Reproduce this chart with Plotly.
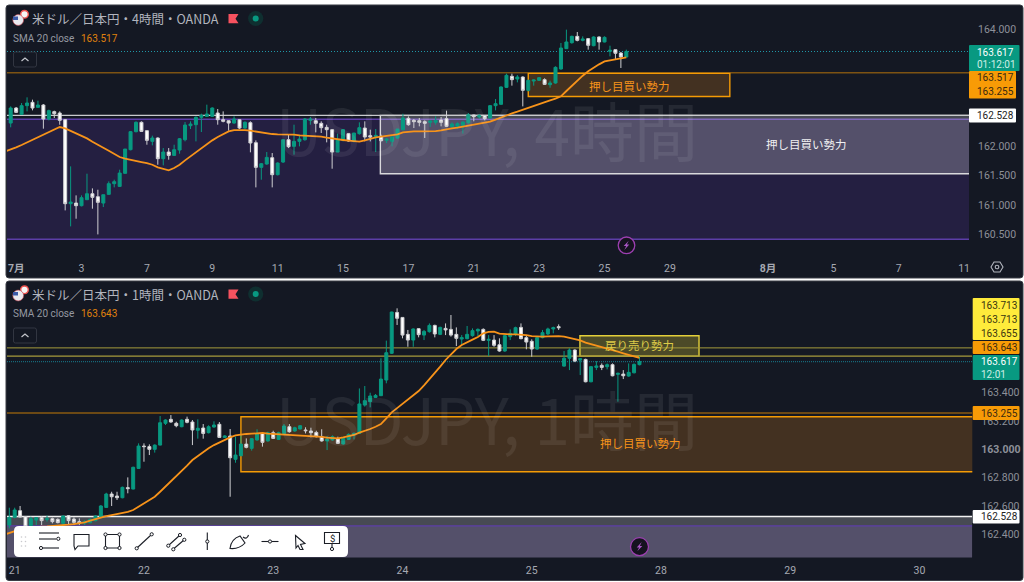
import re
import plotly.graph_objects as go

W, H = 1024, 582

# ---------- 4-hour data ----------
top_open = [162.398,162.654,162.546,162.694,162.751,162.665,162.705,162.467,162.592,162.569,
162.455,161.024,161.035,160.990,161.092,161.194,161.143,161.035,161.183,161.365,
161.319,161.541,161.944,162.251,162.410,162.268,162.086,162.143,161.791,161.904,
161.847,161.938,162.114,162.353,162.370,162.495,162.512,162.512,162.569,162.455,
162.438,162.398,162.455,162.313,162.404,162.063,161.643,161.700,161.808,161.518,
161.734,162.114,162.001,162.086,162.114,162.444,162.438,162.393,162.325,162.285,
161.904,162.103,162.217,162.086,162.217,162.313,162.183,162.166,162.171,162.103,
162.086,162.143,162.285,162.478,162.444,162.438,162.421,162.410,162.410,162.450,
162.472,162.336,162.342,162.353,162.404,162.535,162.501,162.523,162.484,162.694,
162.717,163.006,163.194,163.148,163.182,162.955,163.114,163.125,163.137,163.052,
163.080,163.319,163.665,163.767,163.875,163.807,163.836,163.716,163.864,163.779,
163.620,163.648,163.591,163.523]
top_high = [162.682,162.671,162.739,162.836,162.796,162.779,162.722,162.626,162.609,162.597,
162.467,161.660,161.166,161.166,161.535,161.285,161.262,161.177,161.404,161.433,
161.603,161.955,162.262,162.427,162.427,162.273,162.183,162.154,161.972,161.972,
162.029,162.143,162.415,162.427,162.512,162.557,162.711,162.665,162.637,162.597,
162.438,162.512,162.467,162.427,162.427,162.103,161.717,161.904,161.887,161.728,
162.114,162.200,162.370,162.200,162.484,162.501,162.484,162.427,162.370,162.296,
162.217,162.296,162.228,162.228,162.410,162.427,162.285,162.296,162.200,162.143,
162.171,162.296,162.557,162.512,162.467,162.484,162.444,162.444,162.512,162.501,
162.609,162.410,162.410,162.427,162.569,162.540,162.552,162.535,162.705,162.807,
163.023,163.239,163.239,163.216,163.194,163.137,163.137,163.182,163.160,163.120,
163.364,163.762,163.989,163.887,163.949,163.875,163.847,163.875,163.875,163.875,
163.716,163.648,163.608,163.648]
top_low = [162.325,162.569,162.540,162.597,162.614,162.665,162.302,162.444,162.484,162.370,
160.910,160.638,160.768,160.978,161.092,160.939,160.501,160.967,161.177,161.302,
161.308,161.541,161.933,162.239,162.251,162.029,162.018,161.688,161.677,161.774,
161.842,161.876,162.086,162.296,162.086,162.245,162.501,162.501,162.370,162.410,
162.268,162.387,162.296,162.302,161.899,161.302,161.433,161.688,161.302,161.507,
161.717,161.972,161.859,162.001,162.097,162.370,162.239,162.228,162.069,161.620,
161.904,162.086,162.080,162.069,162.200,162.086,162.086,161.904,162.086,162.058,
162.001,162.131,162.273,162.353,162.313,162.342,162.143,162.330,162.370,162.342,
162.330,162.313,162.296,162.217,162.387,162.427,162.472,162.444,162.472,162.614,
162.711,162.995,163.035,163.091,162.682,162.938,163.035,163.114,163.046,163.000,
163.069,163.307,163.665,163.750,163.790,163.790,163.648,163.705,163.648,163.773,
163.534,163.478,163.336,163.523]
top_close = [162.654,162.580,162.694,162.739,162.654,162.705,162.467,162.609,162.557,162.444,
161.024,161.052,160.990,161.126,161.194,161.132,161.047,161.177,161.365,161.399,
161.546,161.955,162.251,162.410,162.256,162.103,162.143,161.791,161.904,161.847,
161.944,162.131,162.364,162.381,162.495,162.529,162.552,162.654,162.455,162.427,
162.398,162.467,162.313,162.410,162.058,161.643,161.705,161.813,161.518,161.717,
162.114,161.995,162.086,162.126,162.467,162.467,162.393,162.319,162.285,161.904,
162.114,162.285,162.092,162.228,162.319,162.160,162.160,162.188,162.097,162.126,
162.160,162.296,162.484,162.370,162.421,162.410,162.393,162.433,162.444,162.410,
162.342,162.381,162.387,162.415,162.540,162.506,162.523,162.472,162.694,162.728,
163.012,163.211,163.137,163.182,162.955,163.125,163.131,163.171,163.057,163.080,
163.347,163.676,163.779,163.875,163.807,163.830,163.722,163.864,163.779,163.858,
163.637,163.586,163.523,163.617]
# first SMA value belongs to the bar just left of the first visible candle
top_sma = [161.916,161.944,161.984,162.024,162.069,162.103,162.160,162.205,162.251,162.285,162.330,
162.308,162.268,162.228,162.177,162.137,162.080,162.024,161.978,161.927,161.870,
161.819,161.791,161.768,161.751,161.734,161.717,161.688,161.643,161.615,161.592,
161.632,161.688,161.762,161.830,161.904,161.972,162.046,162.103,162.160,162.211,
162.256,162.279,162.285,162.279,162.268,162.251,162.234,162.228,162.211,162.205,
162.205,162.205,162.200,162.188,162.183,162.183,162.177,162.166,162.148,162.131,
162.114,162.109,162.097,162.086,162.080,162.103,162.131,162.154,162.166,162.183,
162.200,162.205,162.239,162.251,162.256,162.256,162.256,162.256,162.262,162.273,
162.296,162.308,162.319,162.336,162.347,162.364,162.376,162.393,162.421,162.455,
162.495,162.535,162.563,162.592,162.626,162.654,162.682,162.717,162.751,162.785,
162.813,162.853,162.944,163.035,163.120,163.205,163.279,163.341,163.398,163.449,
163.466,163.483,163.495,163.517]

# ---------- 1-hour data ----------
bot_open = [162.468,162.522,162.569,162.527,162.464,162.503,162.520,162.508,162.513,162.508,
162.480,162.534,162.510,162.492,162.482,162.485,162.499,162.527,162.592,162.686,
162.672,162.660,162.731,162.721,162.866,163.023,163.019,163.000,163.030,163.183,
163.211,163.183,163.159,163.211,163.192,163.134,163.150,163.117,163.157,163.176,
163.084,163.094,162.930,162.955,163.037,163.007,163.066,163.112,163.059,163.117,
163.070,163.110,163.159,163.129,163.143,163.136,163.129,163.119,163.089,163.059,
163.066,163.073,163.038,163.070,163.101,163.112,163.311,163.335,163.365,163.377,
163.487,163.675,163.962,163.927,163.808,163.768,163.848,163.803,163.827,163.871,
163.808,163.850,163.843,163.808,163.775,163.778,163.799,163.832,163.843,163.766,
163.768,163.735,163.691,163.792,163.808,163.857,163.785,163.759,163.705,163.785,
163.811,163.846,163.862,163.585,163.640,163.698,163.627,163.632,163.475,163.576,
163.590,163.581,163.595,163.527,163.529,163.515,163.538,163.595]
bot_high = [162.590,162.590,162.602,162.531,162.527,162.522,162.531,162.534,162.520,162.515,
162.536,162.538,162.522,162.515,162.503,162.515,162.538,162.609,162.695,162.702,
162.702,162.738,162.803,162.878,163.042,163.042,163.035,163.035,163.234,163.211,
163.241,163.194,163.211,163.230,163.206,163.211,163.178,163.169,163.197,163.192,
163.100,163.143,163.089,163.108,163.077,163.079,163.141,163.117,163.124,163.131,
163.124,163.178,163.178,163.159,163.171,163.155,163.152,163.131,163.141,163.094,
163.098,163.089,163.082,163.112,163.119,163.428,163.445,163.398,163.389,163.640,
163.764,163.967,163.991,163.927,163.839,163.850,163.850,163.839,163.885,163.876,
163.862,163.885,163.944,163.857,163.803,163.867,163.850,163.850,163.850,163.803,
163.803,163.780,163.803,163.843,163.862,163.885,163.803,163.773,163.787,163.839,
163.855,163.862,163.878,163.691,163.710,163.703,163.640,163.637,163.586,163.620,
163.604,163.604,163.604,163.539,163.557,163.604,163.604,163.656]
bot_low = [162.445,162.515,162.522,162.445,162.457,162.468,162.468,162.492,162.480,162.480,
162.468,162.468,162.468,162.468,162.468,162.480,162.494,162.522,162.590,162.602,
162.644,162.656,162.691,162.719,162.864,162.913,162.960,162.977,163.028,163.171,
163.187,163.155,163.155,163.183,163.030,163.075,163.075,163.112,163.152,163.082,
163.080,162.667,162.906,162.953,163.007,162.991,163.061,163.019,163.054,163.073,
163.066,163.105,163.117,163.124,163.140,163.112,163.084,163.084,163.054,162.995,
163.061,163.038,163.033,163.066,163.070,163.108,163.300,163.295,163.361,163.375,
163.464,163.670,163.874,163.780,163.721,163.721,163.787,163.768,163.820,163.787,
163.803,163.803,163.792,163.726,163.733,163.773,163.792,163.796,163.761,163.656,
163.721,163.686,163.686,163.768,163.796,163.773,163.703,163.651,163.700,163.780,
163.803,163.815,163.839,163.581,163.557,163.613,163.522,163.471,163.471,163.557,
163.557,163.562,163.513,163.335,163.494,163.510,163.534,163.590]
bot_close = [162.522,162.574,162.524,162.457,162.513,162.520,162.499,162.513,162.492,162.485,
162.531,162.499,162.487,162.482,162.492,162.508,162.531,162.602,162.686,162.667,
162.660,162.733,162.724,162.874,163.023,163.019,163.000,163.030,163.187,163.206,
163.192,163.166,163.206,163.190,163.136,163.148,163.112,163.159,163.171,163.084,
163.094,162.941,162.960,163.037,163.014,163.075,163.112,163.049,163.117,163.077,
163.117,163.164,163.124,163.152,163.166,163.131,163.117,163.089,163.059,163.070,
163.089,163.042,163.077,163.105,163.112,163.319,163.342,163.375,163.379,163.494,
163.679,163.965,163.921,163.803,163.768,163.846,163.806,163.829,163.871,163.811,
163.857,163.839,163.803,163.780,163.785,163.808,163.834,163.843,163.766,163.773,
163.731,163.691,163.799,163.815,163.855,163.778,163.754,163.705,163.785,163.820,
163.846,163.855,163.855,163.640,163.698,163.620,163.637,163.475,163.581,163.586,
163.576,163.595,163.517,163.534,163.517,163.541,163.597,163.617]
bot_sma = [162.400,162.414,162.428,162.438,162.445,162.450,162.454,162.457,162.459,162.461,162.464,
162.466,162.471,162.475,162.480,162.487,162.499,162.510,162.522,162.531,162.538,
162.546,162.550,162.560,162.574,162.597,162.621,162.644,162.667,162.702,162.738,
162.773,162.808,162.843,162.885,162.925,162.953,162.981,163.007,163.030,163.049,
163.068,163.084,163.098,163.105,163.108,163.110,163.112,163.115,163.110,163.108,
163.105,163.101,163.098,163.096,163.096,163.094,163.094,163.091,163.087,163.082,
163.080,163.077,163.084,163.091,163.101,163.117,163.129,163.143,163.159,163.178,
163.218,163.260,163.290,163.319,163.347,163.377,163.410,163.450,163.492,163.534,
163.581,163.628,163.670,163.705,163.733,163.754,163.771,163.789,163.815,163.825,
163.827,163.813,163.808,163.808,163.808,163.808,163.803,163.796,163.792,163.792,
163.794,163.796,163.796,163.792,163.785,163.778,163.766,163.750,163.740,163.729,
163.721,163.710,163.698,163.686,163.675,163.663,163.654,163.643]

# ---------- axes ----------
top_tick_idx = [1,13,25,37,49,61,73,85,97,109,121,139,151,163,175]
top_tick_txt = ["<b>7月</b>","3","7","9","11","15","17","21","23","25","29","<b>8月</b>","5","7","11"]
bot_tick_idx = [1,25,49,73,97,121,145,169]
bot_tick_txt = ["21","22","23","24","25","28","29","30"]
top_price_ticks = [164, 162, 161.5, 161, 160.5]
top_price_text = ["164.000", "162.000", "161.500", "161.000", "160.500"]
bot_price_ticks = [163.4, 163.2, 163.0, 162.8, 162.6, 162.4]
bot_price_text = ["163.400", "163.200", "<b>163.000</b>", "162.800", "162.600", "162.400"]
top_xrange, top_yrange = [-0.68, 175.9], [160.116, 164.409]
bot_xrange, bot_yrange = [-0.43, 178.8], [162.240, 164.183]

# ---------- levels and zones ----------
last_price = 163.617
support_line = 163.255
white_line = 162.528
purple_hi, purple_lo = 162.462, 160.418
white_box_lo = 161.535
top_orange_zone = (95.0, 132.0, 163.245, 162.85)
bot_orange_zone = (43.0, 190.0, 163.229, 162.843)
bot_yellow_zone = (105.95, 128.06, 163.798, 163.655)
yellow_lines = [163.713, 163.655]
white_box_start = 67.85

# ---------- colours ----------
BG = "#141823"; UP = "#089981"; DOWN = "#ffffff"; ORANGE = "#f7931a"; BORDER_OR = "#f59b05"
TXT = "#a6a9b2"; PRICE = "#8d9099"; PURPLE = "#5c3ea8"
FONT = "Roboto, 'Noto Sans CJK JP', sans-serif"
CJK = "'Noto Sans CJK JP', sans-serif"


def X(p): return p / W
def Y(p): return 1 - p / H


def path_px(s):
    out, isx = [], True
    for tok in re.findall(r"[A-Za-z]|-?\d+\.?\d*", s):
        if tok.isalpha():
            out.append(tok); isx = True
        else:
            v = float(tok)
            out.append(f"{X(v) if isx else Y(v):.5f}")
            isx = not isx
    return " ".join(out)


def sh_path(s, fill=None, color="#131722", w=1.0, layer="above"):
    return dict(type="path", xref="paper", yref="paper", path=path_px(s), layer=layer,
                fillcolor=fill or "rgba(0,0,0,0)", line=dict(color=color, width=w))


def rrect(x0, y0, x1, y1, r, fill, color=None, w=0, layer="above"):
    s = (f"M {x0+r} {y0} L {x1-r} {y0} Q {x1} {y0} {x1} {y0+r} L {x1} {y1-r} Q {x1} {y1} {x1-r} {y1} "
         f"L {x0+r} {y1} Q {x0} {y1} {x0} {y1-r} L {x0} {y0+r} Q {x0} {y0} {x0+r} {y0} Z")
    return sh_path(s, fill, color or "rgba(0,0,0,0)", w, layer)


def circ(cx, cy, r, fill, color=None, w=0, layer="above"):
    return dict(type="circle", xref="paper", yref="paper", x0=X(cx-r), x1=X(cx+r), y0=Y(cy+r), y1=Y(cy-r),
                fillcolor=fill, line=dict(color=color or "rgba(0,0,0,0)", width=w), layer=layer)


def hline(xa, ya, y, color, w, dash="solid", xr=None, layer="below"):
    return dict(type="line", xref=xa, yref=ya, x0=xr[0], x1=xr[1], y0=y, y1=y,
                line=dict(color=color, width=w, dash=dash), layer=layer)


def box(xa, ya, x0, x1, y0, y1, fill, color, w):
    return dict(type="rect", xref=xa, yref=ya, x0=x0, x1=x1, y0=y0, y1=y1, fillcolor=fill,
                line=dict(color=color, width=w) if w else dict(width=0), layer="below")


def txt(px, py, s, size, color, anchor="center", font=FONT):
    return dict(xref="paper", yref="paper", x=X(px), y=Y(py), text=s, showarrow=False, xanchor=anchor,
                yanchor="middle", font=dict(size=size, color=color, family=font), borderpad=0, borderwidth=0)


fig = go.Figure()
for (xa, ya, o, h, l, c) in [("x", "y", top_open, top_high, top_low, top_close),
                             ("x2", "y2", bot_open, bot_high, bot_low, bot_close)]:
    fig.add_trace(go.Candlestick(
        x=list(range(len(o))), open=o, high=h, low=l, close=c, xaxis=xa, yaxis=ya,
        increasing=dict(line=dict(color=UP, width=1), fillcolor=UP),
        decreasing=dict(line=dict(color="#cfcfd2", width=1), fillcolor=DOWN),
        whiskerwidth=0, showlegend=False, hoverinfo="skip"))
fig.add_trace(go.Scatter(x=list(range(-1, len(top_sma) - 1)), y=top_sma, mode="lines", xaxis="x", yaxis="y",
                         line=dict(color=ORANGE, width=1.8), showlegend=False, hoverinfo="skip"))
fig.add_trace(go.Scatter(x=list(range(-1, len(bot_sma) - 1)), y=bot_sma, mode="lines", xaxis="x2", yaxis="y2",
                         line=dict(color=ORANGE, width=1.8), showlegend=False, hoverinfo="skip"))

shapes = [rrect(6, 5, 1023, 278, 3, BG, "#3a3d45", 1, "below"),
          rrect(6, 281, 1023, 580.5, 3, BG, "#3a3d45", 1, "below")]

# zones, top panel
shapes += [box("x", "y", top_xrange[0], top_xrange[1], purple_lo, purple_hi, "#241f41", PURPLE, 0),
           hline("x", "y", purple_hi, PURPLE, 1.4, xr=top_xrange),
           hline("x", "y", purple_lo, PURPLE, 1.4, xr=top_xrange),
           box("x", "y", white_box_start, 190, white_box_lo, white_line, "rgba(255,255,255,0.22)", "#d9d9dc", 1.4),
           hline("x", "y", white_line, "#c9cacd", 1.3, xr=top_xrange),
           hline("x", "y", support_line, "#7d5313", 1.4, xr=top_xrange),
           hline("x", "y", last_price, "#1f97a8", 1.2, "1px,2px", xr=top_xrange),
           box("x", "y", top_orange_zone[0], top_orange_zone[1], top_orange_zone[3], top_orange_zone[2],
               "rgba(247,147,26,0.21)", BORDER_OR, 1.4)]
# zones, bottom panel
shapes += [box("x2", "y2", bot_xrange[0], bot_xrange[1], purple_lo, purple_hi, "#241f41", PURPLE, 0),
           box("x2", "y2", bot_xrange[0], bot_xrange[1], white_box_lo, white_line, "rgba(255,255,255,0.22)", "rgba(0,0,0,0)", 0),
           hline("x2", "y2", purple_hi, PURPLE, 1.4, xr=bot_xrange),
           hline("x2", "y2", white_line, "#f2f2f2", 1.5, xr=bot_xrange),
           hline("x2", "y2", support_line, "#8a5a12", 1.4, xr=bot_xrange),
           hline("x2", "y2", last_price, "#15687a", 1.2, "1px,1px", xr=bot_xrange),
           box("x2", "y2", bot_orange_zone[0], bot_orange_zone[1], bot_orange_zone[3], bot_orange_zone[2],
               "rgba(247,147,26,0.21)", BORDER_OR, 1.4),
           box("x2", "y2", bot_yellow_zone[0], bot_yellow_zone[1], bot_yellow_zone[3], bot_yellow_zone[2],
               "rgba(255,235,59,0.24)", "#e3cf3a", 1.4),
           hline("x2", "y2", yellow_lines[0], "#a69a3c", 1, xr=bot_xrange),
           hline("x2", "y2", yellow_lines[1], "#a69a3c", 1.3, xr=bot_xrange)]

ann = []
# price labels, top
shapes += [rrect(969, 45, 1019.5, 71, 1, UP), rrect(969, 71, 1016, 98.5, 1, "#f89b06"),
           rrect(969, 108.5, 1016, 122.5, 1, "#ffffff")]
ann += [txt(977, 52, "163.617", 10, "#ffffff", "left"), txt(977, 64.5, "01:12:01", 10, "#cfeee6", "left"),
        txt(977, 77.5, "163.517", 10, "#3a2a10", "left"), txt(977, 91.5, "163.255", 10, "#3a2a10", "left"),
        txt(977, 115.5, "162.528", 10, "#222222", "left")]
# price labels, bottom
shapes += [rrect(972.7, 298, 1019.5, 340, 1, "#ffeb3b"), rrect(972.7, 341, 1019.5, 354, 1, "#f89b06"),
           rrect(972.7, 355, 1019.5, 380, 1, UP), rrect(972.7, 406, 1019.5, 420, 1, "#f89b06"),
           rrect(972.7, 510, 1019.5, 523.5, 1, "#ffffff")]
ann += [txt(981, 305, "163.713", 10, "#3a3510", "left"), txt(981, 319, "163.713", 10, "#3a3510", "left"),
        txt(981, 333, "163.655", 10, "#3a3510", "left"), txt(981, 347.5, "163.643", 10, "#3a2a10", "left"),
        txt(981, 361.5, "163.617", 10, "#ffffff", "left"), txt(981, 374, "12:01", 10, "#cfeee6", "left"),
        txt(981, 413, "163.255", 10, "#3a2a10", "left"), txt(981, 516.7, "162.528", 10, "#222222", "left")]

# watermarks and zone captions
ann += [txt(486.5, 128, "USDJPY, 4時間", 64, "rgba(255,255,255,0.075)", font=CJK),
        txt(486.5, 417, "USDJPY, 1時間", 64, "rgba(255,255,255,0.075)", font=CJK),
        txt(806, 144, "押し目買い勢力", 11.5, "#f0f0f2", font=CJK),
        txt(629, 85.5, "押し目買い勢力", 11.5, ORANGE, font=CJK),
        txt(640, 443, "押し目買い勢力", 11.5, ORANGE, font=CJK),
        txt(639, 345, "戻り売り勢力", 11.5, "#dccb48", font=CJK)]

# headers
for y0, tf, sma in [(0, "4時間", "163.517"), (275.5, "1時間", "163.643")]:
    ann += [txt(32, 19 + y0, f"米ドル／日本円・{tf}・OANDA", 12.5, "#b2b5be", "left", CJK),
            txt(13, 39 + y0 - (1.5 if y0 else 0), "SMA 20 close", 10, "#9598a1", "left"),
            txt(81, 39 + y0 - (1.5 if y0 else 0), sma, 10, "#e0820d", "left")]
    shapes += [circ(24.5, 14.3 + y0, 3.8, "#f5f5f5", "#ef5350", 1.4), circ(18.2, 20 + y0, 5.4, "#e9e9ef", "#c94a55", 0.6),
               sh_path(f"M 13 {16.5 + y0} L 18 {16.5 + y0} L 18 {20 + y0} L 13 {20 + y0} Z", "#3c5ba8", "rgba(0,0,0,0)", 0),
               sh_path(f"M 228.5 {14 + y0} L 238.5 {14 + y0} L 235.5 {18.7 + y0} L 238.5 {23.3 + y0} L 228.5 {23.3 + y0} Z", "#f7525f", "rgba(0,0,0,0)", 0),
               circ(255.7, 18.5 + y0, 7.6, "#0f2f30"), circ(255.7, 18.5 + y0, 3, UP)]
    cy = 59.5 + y0 - (0 if not y0 else -0.5)
    shapes += [rrect(13.5, cy - 7.5, 36.5, cy + 7.5, 2, "rgba(0,0,0,0)", "#333742", 1),
               sh_path(f"M 21.5 {cy + 1.5} L 25 {cy - 1.5} L 28.5 {cy + 1.5}", None, "#c4c6cc", 1.2)]

# lightning badges
for cx, cy, r in [(626.5, 245.3, 8.3), (639.5, 546.7, 9)]:
    shapes += [circ(cx, cy, r, "#15121f", "#9c3fb0", 1.3),
               sh_path(f"M {cx+2.2} {cy-4.6} L {cx-2.8} {cy+0.8} L {cx-0.3} {cy+0.8} L {cx-2.2} {cy+4.6} L {cx+2.8} {cy-0.8} L {cx+0.3} {cy-0.8} Z",
                       "#a855c4", "rgba(0,0,0,0)", 0)]

# settings hexagon
shapes += [sh_path("M 991 267 L 994 262 L 1000 262 L 1003 267 L 1000 272 L 994 272 Z", None, "#b2b5be", 1.1),
           circ(997, 267, 1.8, "rgba(0,0,0,0)", "#b2b5be", 1.1)]

# drawing toolbar
IC = "#1b1e26"
shapes.append(rrect(14, 526, 348, 557, 5, "#ffffff"))
for gx in (21.5, 25.5):
    for gy in (537, 541.5, 546):
        shapes.append(circ(gx, gy, 0.8, "#c9c9cd"))
icons = ["M 39 533 L 59 533", "M 39 539 L 56 539", "M 43 548 L 59 548",
         "M 74 534.5 L 89 534.5 L 89 546 L 78 546 L 75 549.5 L 74 546 Z",
         "M 105.5 534.5 L 119.5 534.5 L 119.5 548 L 105.5 548 Z",
         "M 137.5 547.5 L 151 535",
         "M 169 545 L 179.5 535.5", "M 174 548.5 L 184 540",
         "M 207.3 532.5 L 207.3 550",
         "M 230 548.5 Q 231 539 240 536 L 245 543 Q 239 549.5 230 548.5 Z", "M 243 537 Q 247 540 248.5 535",
         "M 261.5 541.5 L 278.5 541.5",
         "M 295.5 535.5 L 305 543.5 L 300.5 544.5 L 303 549.5 L 300 549.5 L 298 545.5 L 296 548 Z",
         "M 324.5 532.5 L 339.5 532.5 L 339.5 543.5 L 324.5 543.5 Z", "M 332 543.5 L 332 547.5"]
shapes += [sh_path(s, None, IC, 1.1) for s in icons]
for cx, cy in [(58.3, 538.8), (41, 548), (105.5, 534.5), (119.5, 534.5), (105.5, 548), (119.5, 548),
               (136.7, 548.3), (151.7, 534.3), (168.3, 545.7), (180, 535), (173.3, 549.3), (184.3, 539.8),
               (207.3, 541.5), (270, 541.5), (332, 549)]:
    shapes.append(circ(cx, cy, 1.6, "#ffffff", IC, 1))
ann.append(txt(332, 538, "$", 9.5, IC))


def xax(domain, anchor, rng, tv, tt, standoff):
    return dict(domain=domain, anchor=anchor, range=rng, tickmode="array", tickvals=tv, ticktext=tt,
                showgrid=False, zeroline=False, showline=False, ticks="", ticklen=0,
                rangeslider=dict(visible=False), fixedrange=True, ticklabelstandoff=standoff,
                tickfont=dict(size=10.5, color=TXT, family=FONT))


def yax(domain, anchor, rng, tv, tt, standoff):
    return dict(domain=domain, anchor=anchor, side="right", range=rng, tickmode="array", tickvals=tv,
                ticktext=tt, showgrid=False, zeroline=False, showline=False, ticks="", ticklen=0,
                fixedrange=True, ticklabelstandoff=standoff,
                tickfont=dict(size=10.5, color=PRICE, family=FONT))


fig.update_layout(
    width=W, height=H, autosize=False, margin=dict(l=0, r=0, t=0, b=0),
    paper_bgcolor="#ffffff", plot_bgcolor="rgba(0,0,0,0)", showlegend=False,
    boxgap=0.45, boxgroupgap=0, boxmode="overlay", hovermode=False,
    xaxis=xax([X(7), X(969)], "y", top_xrange, top_tick_idx, top_tick_txt, 3),
    yaxis=yax([Y(257), Y(5)], "x", top_yrange, top_price_ticks, top_price_text, 8),
    xaxis2=xax([X(7), X(972.3)], "y2", bot_xrange, bot_tick_idx, bot_tick_txt, 5),
    yaxis2=yax([Y(557.5), Y(281)], "x2", bot_yrange, bot_price_ticks, bot_price_text, 8),
    shapes=shapes, annotations=ann)

fig.write_html("out.html", config=dict(displayModeBar=False, staticPlot=True),
               post_script="document.body.style.margin='0';document.body.style.overflow='hidden';")
